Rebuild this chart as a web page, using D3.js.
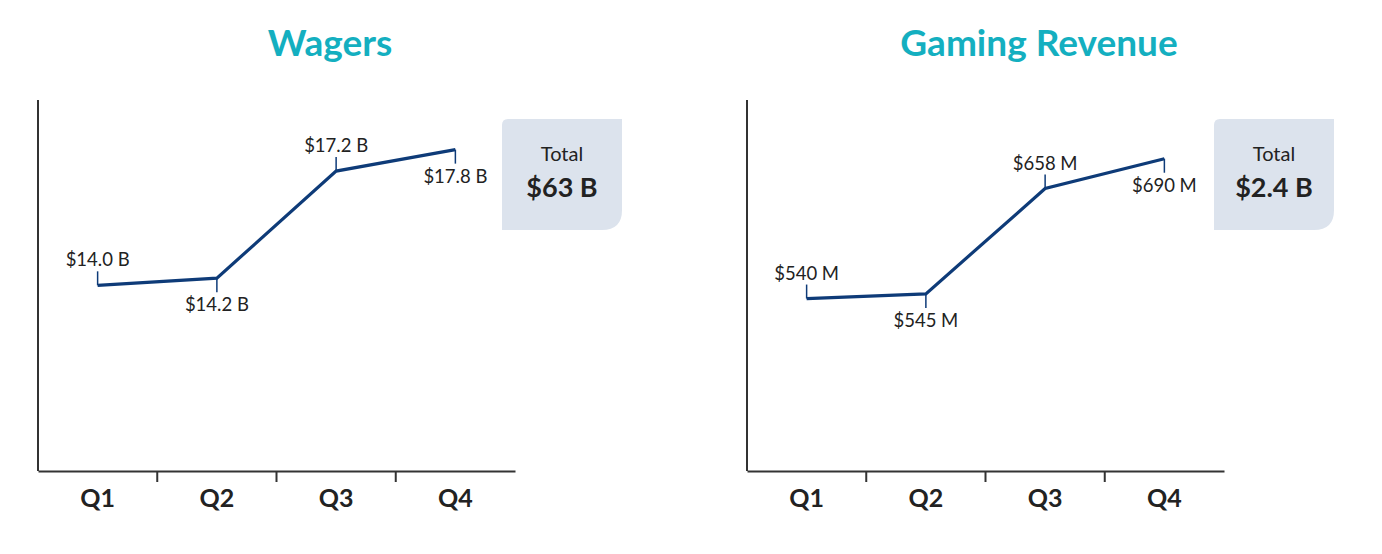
<!DOCTYPE html>
<html><head><meta charset="utf-8">
<script src="https://cdn.jsdelivr.net/npm/d3@7"></script>
<style>
html,body{margin:0;padding:0;background:#fff;}
svg{display:block;font-family:Lato,"Open Sans",sans-serif;}
</style></head>
<body>
<svg id="chart" width="1382" height="554"></svg>
<script>
const quarters = ["Q1","Q2","Q3","Q4"];
const wagersValues = [14.0, 14.2, 17.2, 17.8];
const wagersLabels = ["$14.0 B","$14.2 B","$17.2 B","$17.8 B"];
const revenueValues = [540, 545, 658, 690];
const revenueLabels = ["$540 M","$545 M","$658 M","$690 M"];
const labelSides = ["above","below","above","below"];
const titles = ["Wagers","Gaming Revenue"];
const totals = ["$63 B","$2.4 B"];

const panels = [
  {title: titles[0], values: wagersValues, labels: wagersLabels, total: totals[0], x0: 38, boxOff: 464, domain: [8.8, 19.19]},
  {title: titles[1], values: revenueValues, labels: revenueLabels, total: totals[1], x0: 747, boxOff: 467, domain: [355, 753]}
];

const svg = d3.select("#chart");
const axisTop = 100, axisBottom = 471, axisWidth = 477;
const navy = "#0e3b78", teal = "#14afc0", ink = "#222";

panels.forEach(p => {
  const g = svg.append("g");
  const x = d3.scaleBand().domain(quarters).range([p.x0, p.x0 + axisWidth]);
  const y = d3.scaleLinear().domain(p.domain).range([axisBottom, axisTop]);

  // title
  g.append("text").attr("x", p.x0 + 292).attr("y", 56).attr("text-anchor", "middle")
    .attr("font-size", 37).attr("font-weight", 700).attr("fill", teal).text(p.title);

  // y axis line
  g.append("line").attr("x1", p.x0).attr("x2", p.x0).attr("y1", axisTop).attr("y2", axisBottom)
    .attr("stroke", "#333").attr("stroke-width", 2);

  // x axis
  const xa = g.append("g").attr("transform", `translate(0,${axisBottom})`)
    .call(d3.axisBottom(x).tickSize(0).tickPadding(18));
  xa.select(".domain").attr("stroke", "#333").attr("stroke-width", 2);
  xa.selectAll("text").attr("font-size", 25).attr("font-weight", 700).attr("fill", ink)
    .attr("font-family", "Lato");
  // separators between categories
  g.selectAll(".sep").data(quarters.slice(1)).enter().append("line")
    .attr("x1", d => x(d)).attr("x2", d => x(d)).attr("y1", axisBottom).attr("y2", axisBottom + 11)
    .attr("stroke", "#333").attr("stroke-width", 2);

  const pts = quarters.map((q, i) => ({q, v: p.values[i], lab: p.labels[i], side: labelSides[i]}));
  const cx = d => x(d.q) + x.bandwidth() / 2;

  // label ticks
  g.selectAll(".lt").data(pts).enter().append("line")
    .attr("x1", cx).attr("x2", cx)
    .attr("y1", d => y(d.v))
    .attr("y2", d => y(d.v) + (d.side === "above" ? -14 : 14))
    .attr("stroke", navy).attr("stroke-width", 1.5);

  // line
  g.append("path").datum(pts)
    .attr("d", d3.line().x(cx).y(d => y(d.v)))
    .attr("fill", "none").attr("stroke", navy).attr("stroke-width", 3.2).attr("stroke-linejoin", "miter");

  // labels
  g.selectAll(".lb").data(pts).enter().append("text")
    .attr("x", cx).attr("y", d => y(d.v) + (d.side === "above" ? -19 : 33))
    .attr("text-anchor", "middle").attr("font-size", 18.5).attr("fill", ink).text(d => d.lab);

  // total box
  const bx = p.x0 + p.boxOff, by = 119, bw = 120, bh = 111, r = 20, r0 = 6;
  const path = `M${bx + r0},${by} H${bx + bw} V${by + bh - r} Q${bx + bw},${by + bh} ${bx + bw - r},${by + bh} H${bx} V${by + r0} Q${bx},${by} ${bx + r0},${by} Z`;
  g.append("path").attr("d", path).attr("fill", "#dce3ed");
  g.append("text").attr("x", bx + bw / 2).attr("y", by + 42).attr("text-anchor", "middle")
    .attr("font-size", 20).attr("fill", ink).text("Total");
  g.append("text").attr("x", bx + bw / 2).attr("y", by + 78).attr("text-anchor", "middle")
    .attr("font-size", 27).attr("font-weight", 700).attr("fill", ink).text(p.total);
});
</script>
</body></html>
